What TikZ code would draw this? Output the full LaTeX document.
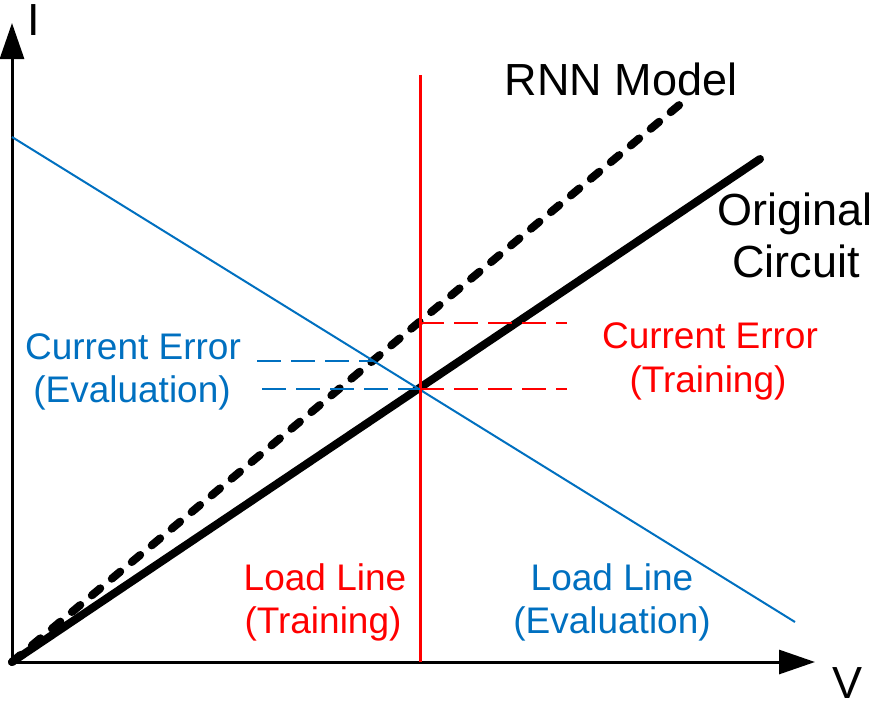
\documentclass[tikz,border=0pt]{standalone}
\usepackage{fontspec}
\setmainfont{Liberation Sans}
\usetikzlibrary{arrows.meta}
\definecolor{evalblue}{HTML}{0070C0}
\definecolor{trainred}{HTML}{FF0000}
\tikzset{
  axis/.style={line width=3pt,-{Triangle[length=36pt,width=24pt]}},
  bigtext/.style={anchor=base,inner sep=0pt,font=\fontsize{45}{52}\selectfont},
  smalltext/.style={anchor=base,inner sep=0pt,font=\fontsize{37}{43}\selectfont},
  errdash/.style={line width=2.5pt,dash pattern=on 24pt off 10pt},
}
\begin{document}
\begin{tikzpicture}[x=1pt,y=-1pt]
\useasboundingbox (0,0) rectangle (878,702);
\fill[white] (0,0) rectangle (878,702);

% axes
\coordinate (O) at (12,662);
\coordinate (ytip) at (12,23);
\coordinate (xtip) at (815,662);
\draw[axis] (O) -- (ytip);
\draw[axis] (O) -- (xtip);
\node[bigtext] (Ilab) at (34,35) {I};
\node[bigtext] (Vlab) at (847,698) {V};

% characteristic curves
\coordinate (origEnd) at (760,159);
\coordinate (rnnEnd) at (684,101);
\draw[line width=8pt,line cap=round] (O) -- (origEnd);
\draw[line width=8pt,line cap=round,dash pattern=on 11pt off 15pt] (O) -- (rnnEnd);

% load lines
\coordinate (evalTop) at (12,137);
\coordinate (evalBot) at (795,622);
\draw[evalblue,line width=2pt] (evalTop) -- (evalBot);
\coordinate (trainTop) at (420,75);
\coordinate (trainBot) at (420,662);
\draw[trainred,line width=3pt] (trainTop) -- (trainBot);

% operating points and current error markers
\coordinate (opTrain) at (420,389);
\coordinate (rnnTrain) at (420,323);
\coordinate (rnnEval) at (374,361);
\coordinate (redA) at (567,323);
\coordinate (redB) at (567,389);
\coordinate (blueA) at (257,361);
\coordinate (blueB) at (262,389);
\draw[trainred,errdash] (rnnTrain) -- (redA);
\draw[trainred,errdash] (opTrain) -- (redB);
\draw[evalblue,errdash] (blueA) -- (rnnEval);
\draw[evalblue,errdash] (blueB) -- (opTrain);

% labels
\node[bigtext] (rnnlab) at (621,95) {RNN Model};
\node[bigtext] (origlab1) at (795,225) {Original};
\node[bigtext] (origlab2) at (796,277) {Circuit};
\node[smalltext,text=evalblue] (ceEval1) at (133,359) {Current Error};
\node[smalltext,text=evalblue] (ceEval2) at (132,402) {(Evaluation)};
\node[smalltext,text=trainred] (ceTrain1) at (710,348) {Current Error};
\node[smalltext,text=trainred] (ceTrain2) at (708,392) {(Training)};
\node[smalltext,text=trainred] (llTrain1) at (325,590) {Load Line};
\node[smalltext,text=trainred] (llTrain2) at (323,633) {(Training)};
\node[smalltext,text=evalblue] (llEval1) at (612,590) {Load Line};
\node[smalltext,text=evalblue] (llEval2) at (612,633) {(Evaluation)};
\end{tikzpicture}
\end{document}
